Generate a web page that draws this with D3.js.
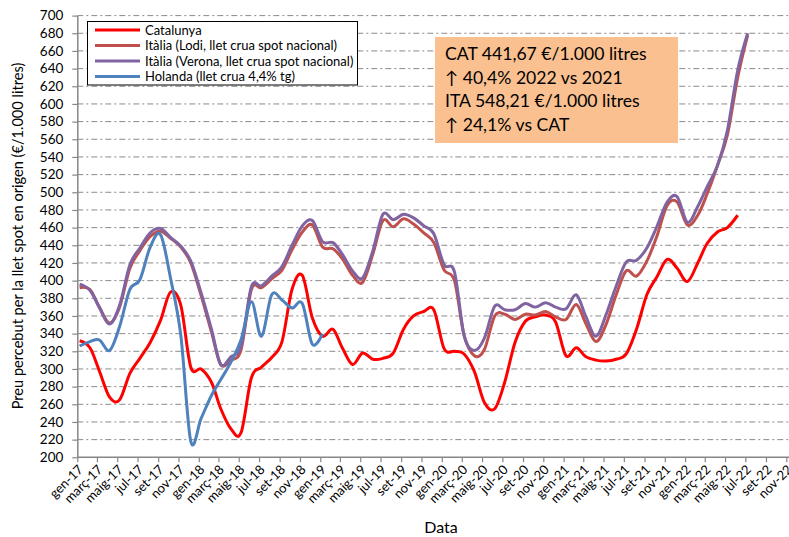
<!DOCTYPE html>
<html><head><meta charset="utf-8">
<script src="https://cdn.jsdelivr.net/npm/d3@7"></script>
<style>
html,body{margin:0;padding:0;background:#fff;}
svg text{font-family:Lato,"Open Sans",sans-serif;fill:#000;}
</style></head>
<body>
<svg id="c" width="789" height="537"></svg>
<script>
// ---- data (monthly, from gen-17) ----
const seriesNames = ["Catalunya","Itàlia (Lodi, llet crua spot nacional)","Itàlia (Verona, llet crua spot nacional)","Holanda (llet crua 4,4% tg)"];
const seriesColors = ["#FF0000","#C0504D","#8064A2","#4F81BD"];
const catalunya = [332,324,298,268,265,295,312,330,355,387,372,302,300,285,255,232,228,290,302,313,331,390,406,358,337,345,324,305,318,311,312,318,345,360,365,367,323,320,317,297,262,255,285,330,354,359,361,353,315,324,314,310,309,311,317,345,384,404,424,414,399,420,442,455,460,474];
const italiaLodi = [392,390,370,352,370,414,434,450,456,448,438,420,383,342,305,310,322,390,392,402,412,435,455,463,438,436,425,406,398,430,468,461,470,464,454,443,412,400,338,315,322,360,362,356,362,361,365,359,356,373,352,331,350,384,411,405,422,450,485,489,463,474,498,530,565,630,678];
const italiaVerona = [396,389,370,351,372,418,437,454,459,449,439,422,386,345,305,314,326,393,394,405,416,440,462,468,444,443,430,411,403,434,475,469,475,471,462,453,418,410,338,321,335,371,367,367,374,370,375,370,368,384,360,337,361,394,421,423,437,461,489,495,466,484,506,530,570,638,680];
const holanda = [326,331,333,321,348,390,401,438,452,403,338,218,244,270,288,308,333,376,337,384,378,369,374,328,340];
const xTickLabels = ["gen-17","març-17","maig-17","jul-17","set-17","nov-17","gen-18","març-18","maig-18","jul-18","set-18","nov-18","gen-19","març-19","maig-19","jul-19","set-19","nov-19","gen-20","març-20","maig-20","jul-20","set-20","nov-20","gen-21","març-21","maig-21","jul-21","set-21","nov-21","gen-22","març-22","maig-22","jul-22","set-22","nov-22"];
const yTicks = [200,220,240,260,280,300,320,340,360,380,400,420,440,460,480,500,520,540,560,580,600,620,640,660,680,700];
const noteLines = ["CAT 441,67 €/1.000 litres","↑ 40,4% 2022 vs 2021","ITA 548,21 €/1.000 litres","↑ 24,1% vs CAT"];
const yTitle = "Preu percebut per la llet spot en origen (€/1.000 litres)";
const xTitle = "Data";

const svg = d3.select("#c");
const W = 789, H = 537;
const x0 = 77.3, xEnd = 786.3, yTop = 15.6, yBot = 457.3;

const x = d3.scaleTime().domain([new Date(2017,0,1), new Date(2022,10,1)]).range([x0, xEnd]);
const y = d3.scaleLinear().domain([200,700]).range([yBot, yTop]);
const dateOf = i => new Date(2017, i, 8);
const tickDates = xTickLabels.map((d,i) => new Date(2017, 2*i, 1));

// gridlines
svg.append("g").selectAll("line").data(yTicks.filter(v => v > 200)).join("line")
  .attr("x1", x0).attr("x2", W).attr("y1", d => y(d)).attr("y2", d => y(d))
  .attr("stroke", "#8a8a8a").attr("stroke-width", 1).attr("stroke-dasharray", "6,3,2,3");

// axes
const axisColor = "#868686";
const gx = svg.append("g").attr("transform", `translate(0,${yBot})`)
  .call(d3.axisBottom(x).tickValues(tickDates).tickSize(5).tickSizeOuter(0).tickFormat((d,i) => xTickLabels[i]));
gx.select(".domain").attr("stroke", axisColor).attr("stroke-width", 1.5).attr("d", `M${x0},0H${W}`);
gx.selectAll(".tick line").attr("stroke", axisColor).attr("stroke-width", 1.2);
gx.selectAll(".tick text").attr("font-size", 13).attr("text-anchor", "end")
  .attr("dy", null).attr("y", 0)
  .attr("transform", "translate(6,13) rotate(-45)");

const gy = svg.append("g").attr("transform", `translate(${x0},0)`)
  .call(d3.axisLeft(y).tickValues(yTicks).tickSize(5).tickSizeOuter(0).tickFormat(d3.format("d")));
gy.select(".domain").attr("stroke", axisColor).attr("stroke-width", 1.5);
gy.selectAll(".tick line").attr("stroke", axisColor).attr("stroke-width", 1.2);
gy.selectAll(".tick text").attr("font-size", 13.5).attr("x", -14);

// titles
svg.append("text").attr("transform", "translate(23,236) rotate(-90)").attr("text-anchor", "middle")
  .attr("font-size", 14.6).text(yTitle);
svg.append("text").attr("x", 441).attr("y", 533).attr("text-anchor", "middle").attr("font-size", 16).text(xTitle);

// lines
const line = d3.line().x((d,i) => x(dateOf(i))).y(d => y(d)).curve(d3.curveCatmullRom.alpha(0));
const all = [catalunya, italiaLodi, italiaVerona, holanda];
svg.append("g").selectAll("path").data(all).join("path")
  .attr("d", d => line(d)).attr("fill", "none")
  .attr("stroke", (d,i) => seriesColors[i]).attr("stroke-width", 3).attr("stroke-linejoin", "round");

// legend
const lg = svg.append("g");
lg.append("rect").attr("x", 87.5).attr("y", 21.5).attr("width", 270).attr("height", 63.5)
  .attr("fill", "#fff").attr("stroke", "#000").attr("stroke-width", 1);
const rowY = [30, 45.5, 61, 76.5];
seriesNames.forEach((n,i) => {
  lg.append("line").attr("x1", 95).attr("x2", 140).attr("y1", rowY[i]).attr("y2", rowY[i])
    .attr("stroke", seriesColors[i]).attr("stroke-width", 3);
  lg.append("text").attr("x", 145).attr("y", rowY[i]).attr("dy", "0.35em").attr("font-size", 13).text(n);
});

// annotation
const ng = svg.append("g");
ng.append("rect").attr("x", 435).attr("y", 37).attr("width", 243).attr("height", 106).attr("fill", "#FAC090");
noteLines.forEach((t,i) => {
  ng.append("text").attr("x", 445).attr("y", 60 + i*23.7).attr("font-size", 17.6).text(t);
});
</script>
</body></html>
